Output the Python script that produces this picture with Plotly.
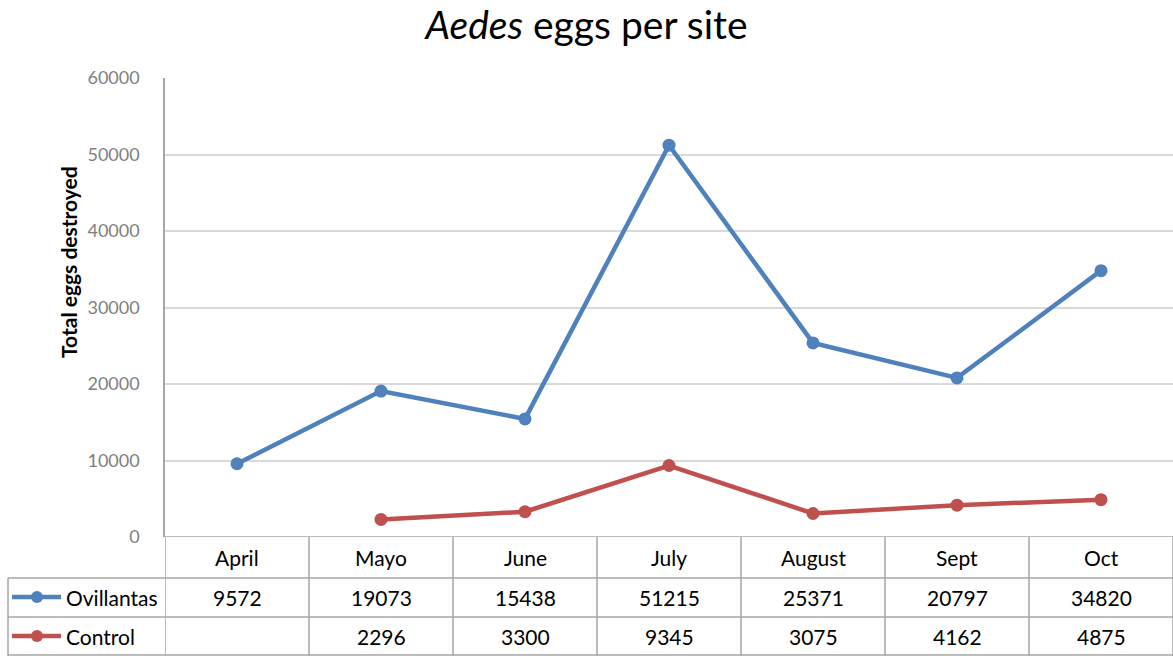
import plotly.graph_objects as go

months = ["April", "Mayo", "June", "July", "August", "Sept", "Oct"]
ovillantas = [9572, 19073, 15438, 51215, 25371, 20797, 34820]
control = [None, 2296, 3300, 9345, 3075, 4162, 4875]
series_names = ["Ovillantas", "Control"]
series_colors = ["#4F81BD", "#C0504D"]
y_ticks = [0, 10000, 20000, 30000, 40000, 50000, 60000]

W, H = 1173, 656
L, T, B, R = 165, 78, 119, 0
PH = H - T - B
PW = W - L - R
FONT = "Lato"


def py(ypix):
    return (H - B - ypix) / PH


def px(xpix):
    return (xpix - L) / PW


fig = go.Figure()
x_idx = list(range(len(months)))
for name, vals, col in zip(series_names, [ovillantas, control], series_colors):
    fig.add_trace(go.Scatter(
        x=x_idx, y=vals, mode="lines+markers", name=name,
        line=dict(color=col, width=4.5),
        marker=dict(color=col, size=13),
        connectgaps=False, showlegend=False, cliponaxis=False,
    ))

shapes = []
grid_col = "#A6A6A6"
for i in range(len(months) + 1):
    shapes.append(dict(type="line", xref="x", yref="paper", x0=i - 0.5, x1=i - 0.5,
                       y0=py(537), y1=py(656), line=dict(color=grid_col, width=1.5)))
for yp in [578, 617, 655]:
    shapes.append(dict(type="line", xref="paper", yref="paper", x0=px(8), x1=px(1173),
                       y0=py(yp), y1=py(yp), line=dict(color=grid_col, width=1.5)))
shapes.append(dict(type="line", xref="paper", yref="paper", x0=px(8), x1=px(8),
                   y0=py(578), y1=py(656), line=dict(color=grid_col, width=1.5)))

annotations = []
row_y = [597, 636]
for r, (name, vals, col) in enumerate(zip(series_names, [ovillantas, control], series_colors)):
    yy = py(row_y[r])
    shapes.append(dict(type="line", xref="paper", yref="paper", x0=px(12), x1=px(61),
                       y0=yy, y1=yy, line=dict(color=col, width=4.5)))
    shapes.append(dict(type="circle", xref="paper", yref="paper", x0=px(31), x1=px(43),
                       y0=py(row_y[r] + 6), y1=py(row_y[r] - 6),
                       fillcolor=col, line=dict(color=col, width=0)))
    annotations.append(dict(text=name, xref="paper", yref="paper", x=px(64), y=yy,
                            xanchor="left", yanchor="middle", showarrow=False,
                            font=dict(family=FONT, size=21, color="#000000")))
    for i, v in enumerate(vals):
        if v is None:
            continue
        annotations.append(dict(text=str(v), xref="x", yref="paper", x=i, y=yy,
                                xanchor="center", yanchor="middle", showarrow=False,
                                font=dict(family=FONT, size=21, color="#000000")))
for i, m in enumerate(months):
    annotations.append(dict(text=m, xref="x", yref="paper", x=i, y=py(557),
                            xanchor="center", yanchor="middle", showarrow=False,
                            font=dict(family=FONT, size=21, color="#000000")))
annotations.append(dict(text="<b>Total eggs destroyed</b>", xref="paper", yref="paper",
                        x=px(68), y=py(262), textangle=-90, showarrow=False,
                        xanchor="center", yanchor="middle",
                        font=dict(family=FONT, size=21, color="#000000")))

fig.update_layout(
    width=W, height=H,
    margin=dict(l=L, r=R, t=T, b=B, autoexpand=False),
    paper_bgcolor="white", plot_bgcolor="white",
    title=dict(text="<i>Aedes</i> eggs per site", x=0.5, xanchor="center",
               y=1 - 25 / H, yanchor="middle", yref="container",
               font=dict(family=FONT, size=39, color="#000000")),
    xaxis=dict(range=[-0.5, len(months) - 0.5], showticklabels=False, showgrid=False,
               zeroline=False, showline=False, ticks="", fixedrange=True),
    yaxis=dict(range=[0, 60000], tickvals=y_ticks, tickformat="d", showgrid=True,
               gridcolor="#D9D9D9", gridwidth=1.5, zeroline=False, showline=True,
               linecolor="#A6A6A6", linewidth=1.5, ticks="", ticklabelstandoff=20,
               tickfont=dict(family=FONT, size=18, color="#7F7F7F")),
    shapes=shapes, annotations=annotations,
)
fig.add_shape(type="line", xref="paper", yref="y", x0=0, x1=1, y0=0, y1=0,
              line=dict(color="#A6A6A6", width=1.5), layer="below")

fig.write_html("out.html", config={"displayModeBar": False},
               post_script="document.body.style.margin='0';document.body.style.overflow='hidden';")
